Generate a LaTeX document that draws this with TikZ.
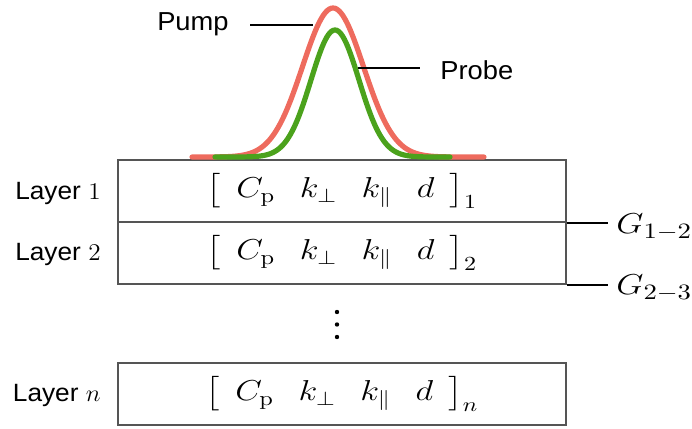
\documentclass[tikz,border=0pt]{standalone}
\usepackage{amsmath}
\usepackage{fontspec}
\newfontfamily\arialfont{Liberation Sans}
\definecolor{pumpred}{HTML}{EE6B5E}
\definecolor{probegreen}{HTML}{4BA21C}
\definecolor{boxgray}{HTML}{555555}
\newcommand{\layerformula}[1]{\scalebox{1.2}[1]{$\bigl[\;\,C_\mathrm{p}\hspace{0.7em}k_\perp\hspace{0.7em}k_\parallel\hspace{0.7em}d\;\,\bigr]_{#1}$}}
\newcommand{\hstretch}[1]{\scalebox{1.05}[1]{#1}}
\begin{document}
\begin{tikzpicture}[x=0.5pt,y=-0.5pt,
  layerbox/.style={draw=boxgray, line width=0.7pt, minimum width=224pt, minimum height=31pt, inner sep=0pt, font=\fontsize{14.5}{17}\selectfont},
  layerlbl/.style={font=\arialfont\fontsize{12.5}{14}\selectfont, anchor=east, inner sep=0pt},
  glbl/.style={font=\fontsize{15}{17}\selectfont, anchor=west, inner sep=0pt},
  conn/.style={line width=1pt, black},
  pulsetxt/.style={font=\arialfont\fontsize{13}{14}\selectfont, inner sep=0pt},
  pulse/.style={line width=2.6pt, line cap=round}]
\useasboundingbox (0,0) rectangle (692,429);
% layer boxes
\node[layerbox] (b1) at (342,191) {\layerformula{1}};
\node[layerbox] (b2) at (342,253) {\layerformula{2}};
\node[layerbox] (bn) at (342,394) {\layerformula{n}};
% layer labels
\node[layerlbl] (l1) at (101,193) {\hstretch{Layer $1$}};
\node[layerlbl] (l2) at (101,254) {\hstretch{Layer $2$}};
\node[layerlbl] (ln) at (101,395) {\hstretch{Layer $n$}};
% dots
\fill (337,312) circle (2.2) (337,324.5) circle (2.2) (337,337) circle (2.2);
% interface conductances
\node[glbl] (g12) at (616,227) {\scalebox{1.22}[1]{$G_{1-2}$}};
\node[glbl] (g23) at (616,288) {\scalebox{1.22}[1]{$G_{2-3}$}};
\coordinate (i12) at (b1.south east);
\coordinate (i23) at (b2.south east);
\draw[conn] (i12) -- ([xshift=-4pt]i12 -| g12.west);
\draw[conn] (i23) -- ([xshift=-4pt]i23 -| g23.west);
% pulses
\draw[pulse, pumpred] plot[domain=192:484, samples=150, smooth] (\x, {157-149*exp(-0.5*((\x-333)/30.5)^2)});
\draw[pulse, probegreen] plot[domain=215:450, samples=150, smooth] (\x, {157-127*exp(-0.5*((\x-335)/24)^2)});
% labels
\node[pulsetxt, anchor=east] (pump) at (229,24) {\hstretch{Pump}};
\node[pulsetxt, anchor=west] (probe) at (440,70) {\hstretch{Probe}};
\coordinate (pumpa) at (250,25);
\coordinate (pumpb) at (313,25);
\coordinate (probea) at (358,68);
\coordinate (probeb) at (420,68);
\draw[conn] (pumpa) -- (pumpb);
\draw[conn] (probea) -- (probeb);
\end{tikzpicture}
\end{document}
